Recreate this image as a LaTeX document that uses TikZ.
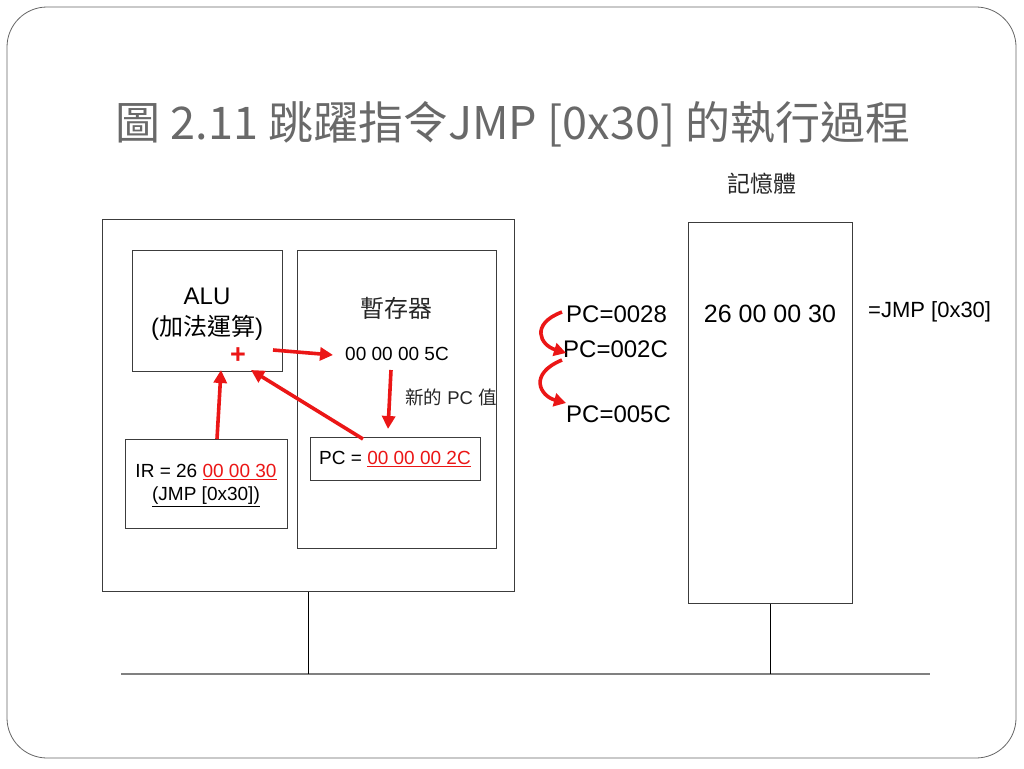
\documentclass[tikz,border=0pt]{standalone}
\usepackage{fontspec}
\setmainfont{Liberation Sans}
\newfontfamily\cjk{Noto Sans CJK TC}
\usetikzlibrary{arrows.meta}
\definecolor{rd}{RGB}{235,22,22}
\definecolor{tgray}{RGB}{105,105,105}
\definecolor{bgray}{RGB}{60,60,60}
\newcommand\fsz[1]{\fontsize{#1}{#1}\selectfont}
\begin{document}
\begin{tikzpicture}[x=1pt,y=-1pt,
  box/.style={draw=bgray, line width=1.2pt, inner sep=0pt, anchor=north west},
  txt/.style={inner sep=0pt, anchor=center},
  rarrow/.style={draw=rd, line width=3.6pt, -{Triangle[length=13pt,width=13pt]}},
  carrow/.style={draw=rd, line width=3.6pt, -{Triangle[length=12pt,width=13pt]}}]
\useasboundingbox (0,0) rectangle (1024,768);
\fill[white] (0,0) rectangle (1024,768);
% frame
\draw[draw=gray!80!black, line width=0.8pt, rounded corners=40pt] (7,7) rectangle (1016,758);
% title
\node[txt, text=tgray, font=\cjk\fsz{45}] (title) at (513,124) {圖 2.11 跳躍指令JMP [0x30] 的執行過程};
% CPU boxes
\node[box, minimum width=412pt, minimum height=372pt] (cpu) at (102,219) {};
\node[box, minimum width=150pt, minimum height=121pt] (alu) at (132,250) {};
\node[box, minimum width=199pt, minimum height=298pt] (reg) at (297,250) {};
\node[box, minimum width=162pt, minimum height=89pt] (ir) at (125,439) {};
\node[box, minimum width=170pt, minimum height=43pt] (pc) at (310,437) {};
% memory
\node[box, minimum width=164pt, minimum height=381pt] (mem) at (688,222) {};
% texts
\node[txt, font=\fsz{24}] (alut) at (207,296) {ALU};
\node[txt, font=\fsz{24}] (alus) at (207,328) {(\cjk 加法運算\rm)};
\node[txt, text=rd, font=\bfseries\fsz{27}] (plus) at (238,356) {+};
\node[txt, text=black!85, font=\cjk\fsz{24}] (regt) at (396,308) {暫存器};
\node[txt, font=\fsz{19}] (nv) at (397,354) {00 00 00 5C};
\node[txt, text=black!85, font=\fsz{18.5}] (npc) at (451,397) {{\cjk 新的} PC {\cjk 值}};
\node[txt, font=\fsz{19}] (pct) at (395,459) {PC = {\color{rd}\underline{00 00 00 2C}}};
\node[txt, font=\fsz{19}] (irt) at (206,472) {IR = 26 {\color{rd}\underline{00 00 30}}};
\node[txt, font=\fsz{19}] (irs) at (206,497) {\underline{(JMP [0x30])}};
\node[txt, text=black!85, font=\cjk\fsz{23}] (memt) at (762,184) {記憶體};
\node[txt, font=\fsz{25}] (memv) at (770,314) {26 00 00 30};
\node[txt, font=\fsz{22}, anchor=west] (jmp) at (868,312) {=JMP [0x30]};
\node[txt, font=\fsz{24}, anchor=west] (pc1) at (566,314) {PC=0028};
\node[txt, font=\fsz{24}, anchor=west] (pc2) at (563,349) {PC=002C};
\node[txt, font=\fsz{24}, anchor=west] (pc3) at (566,414) {PC=005C};
% red arrows inside CPU
\coordinate (a1s) at (273,350);
\coordinate (a1e) at (333,355);
\draw[rarrow] (a1s) -- (a1e);
\coordinate (a2s) at (391,370);
\coordinate (a2e) at (388,429);
\draw[rarrow] (a2s) -- (a2e);
\coordinate (a3s) at (217,439);
\coordinate (a3e) at (221,370);
\draw[rarrow] (a3s) -- (a3e);
\coordinate (a4s) at (363,439);
\coordinate (a4e) at (251,370);
\draw[rarrow] (a4s) -- (a4e);
% curved arrows
\coordinate (c1s) at (562,312);
\coordinate (c1e) at (566,353);
\draw[carrow] (c1s) .. controls (530,324) and (540,345) .. (c1e);
\coordinate (c2s) at (562,360);
\coordinate (c2e) at (566,403);
\draw[carrow] (c2s) .. controls (528,374) and (540,396) .. (c2e);
% bus
\coordinate (bl) at (121,674);
\coordinate (br) at (930,674);
\draw[draw=gray, line width=2pt] (bl) -- (br);
\draw[line width=0.8pt] (cpu.south) -- (cpu.south |- bl);
\draw[line width=0.8pt] (mem.south) -- (mem.south |- bl);
\end{tikzpicture}
\end{document}
